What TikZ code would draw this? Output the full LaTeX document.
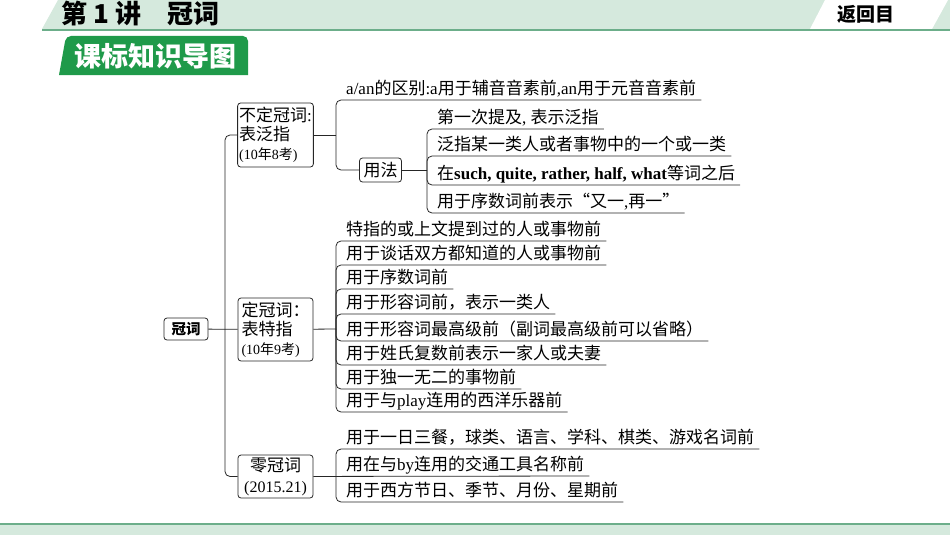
\documentclass[tikz,border=0pt]{standalone}
\usepackage{fontspec}
\setmainfont{Noto Sans CJK SC}
\newfontfamily\lat{Liberation Serif}
\usepackage{xcolor}
\usepackage{tikz}

\definecolor{faixa}{HTML}{D5E9DD}
\definecolor{linhaverde}{HTML}{6CAE8A}
\definecolor{verdetitulo}{HTML}{1F9A4A}

\tikzset{
  caixa/.style={draw=black!85, line width=0.8pt, rounded corners=3pt},
  item/.style={anchor=south west, inner xsep=5pt, inner ysep=1pt, text depth=4pt,
    font=\fontsize{17}{19}\selectfont},
  liga/.style={draw=black!85, line width=0.8pt, rounded corners=5pt},
}

\begin{document}
\begin{tikzpicture}[x=1pt, y=-1pt]
    \useasboundingbox (0,0) rectangle (950,535);

    % Faixa do topo
    \fill[faixa] (58,0) -- (950,0) -- (950,29) -- (42,29) -- cycle;
    \fill[white] (825,0) -- (948,0) -- (932,29) -- (810,29) -- cycle;
    \draw[linhaverde, line width=2pt] (42,30) -- (950,30);
    \node[font=\fontsize{26}{28}\selectfont\bfseries, anchor=west] (titulo) at (58,13) {第 1 讲\hspace{1em}冠词};
    \node[font=\fontsize{19}{21}\selectfont\bfseries] (voltar) at (866,14) {返回目};

    % Faixa de baixo
    \fill[faixa] (0,525) rectangle (950,535);
    \draw[linhaverde, line width=2pt] (0,524) -- (950,524);

    % Etiqueta verde
    \fill[verdetitulo] (59,75) [rounded corners=5pt] -- (66,36) -- (248,36) [sharp corners] -- (248,75) -- cycle;
    \node[white, font=\fontsize{27}{29}\selectfont\bfseries] (etiqueta) at (155,56) {课标知识导图};

    % Raiz e ramos principais
    \node[caixa, font=\fontsize{14.5}{16}\selectfont\bfseries, minimum width=44pt, minimum height=22pt, inner sep=1pt] (raiz) at (186,329) {冠词};
    \node[caixa, font=\fontsize{17}{19}\selectfont, align=left, minimum width=75pt, minimum height=64pt, inner sep=1.5pt] (indef) at (275.5,135)
        {不定冠词{\lat :}\\表泛指\\{\fontsize{14}{15}\selectfont{\lat (10}年{\lat 8}考{\lat )}}};
    \node[caixa, font=\fontsize{17}{19}\selectfont, align=left, minimum width=75pt, minimum height=63pt, inner sep=1.5pt] (def) at (275.5,329.5)
        {定冠词：\\表特指\\{\fontsize{14}{15}\selectfont{\lat (10}年{\lat 9}考{\lat )}}};
    \node[caixa, font=\fontsize{17}{21}\selectfont, align=center, minimum width=75pt, minimum height=43pt, inner sep=2pt] (zero) at (275.5,476.5)
        {零冠词\\{\lat\fontsize{16}{17}\selectfont (2015.21)}};

    \coordinate (tronco) at (225,329);
    \draw[liga] (raiz) -- (def);
    \draw[liga] (tronco) |- (indef.west);
    \draw[liga] (tronco) |- (zero.west);

    % Artigo indefinido
    \coordinate (ramoA) at (336,135);
    \node[caixa, font=\fontsize{17}{19}\selectfont, inner xsep=4pt, inner ysep=1pt, minimum height=24pt] (uso) at (380.5,170) {用法};
    \node[item] (a1) at (341,100) {{\lat a/an}的区别{\lat :a}用于辅音音素前{\lat ,an}用于元音音素前};
    \draw[liga] (indef) -- (ramoA);
    \draw[liga] (ramoA) |- (a1.south east);
    \draw[liga] (ramoA) |- (uso.west);

    \coordinate (ramoB) at (427,170);
    \node[item] (b1) at (432,129) {第一次提及{\lat , }表示泛指};
    \node[item] (b2) at (432,156) {泛指某一类人或者事物中的一个或一类};
    \node[item] (b3) at (432,185) {在{\lat\bfseries such, quite, rather, half, what}等词之后};
    \node[item] (b4) at (432,213) {用于序数词前表示“又一{\lat ,}再一”};
    \draw[liga] (uso) -- (ramoB);
    \draw[liga] (ramoB) |- (b1.south east);
    \draw[liga] (ramoB) |- (b2.south east);
    \draw[liga] (ramoB) |- (b3.south east);
    \draw[liga] (ramoB) |- (b4.south east);

    % Artigo definido
    \coordinate (ramoC) at (336,329);
    \node[item] (c1) at (341,241) {特指的或上文提到过的人或事物前};
    \node[item] (c2) at (341,265) {用于谈话双方都知道的人或事物前};
    \node[item] (c3) at (341,289) {用于序数词前};
    \node[item] (c4) at (341,314) {用于形容词前，表示一类人};
    \node[item] (c5) at (341,341) {用于形容词最高级前（副词最高级前可以省略）};
    \node[item] (c6) at (341,365) {用于姓氏复数前表示一家人或夫妻};
    \node[item] (c7) at (341,389) {用于独一无二的事物前};
    \node[item] (c8) at (341,412) {用于与{\lat play}连用的西洋乐器前};
    \draw[liga] (def) -- (ramoC);
    \draw[liga] (ramoC) |- (c1.south east);
    \draw[liga] (ramoC) |- (c2.south east);
    \draw[liga] (ramoC) |- (c3.south east);
    \draw[liga] (ramoC) |- (c4.south east);
    \draw[liga] (ramoC) |- (c5.south east);
    \draw[liga] (ramoC) |- (c6.south east);
    \draw[liga] (ramoC) |- (c7.south east);
    \draw[liga] (ramoC) |- (c8.south east);

    % Artigo zero
    \coordinate (ramoD) at (336,476);
    \node[item] (d1) at (341,449) {用于一日三餐，球类、语言、学科、棋类、游戏名词前};
    \node[item] (d2) at (341,476) {用在与{\lat by}连用的交通工具名称前};
    \node[item] (d3) at (341,502) {用于西方节日、季节、月份、星期前};
    \draw[liga] (zero) -- (d2.south east);
    \draw[liga] (ramoD) |- (d1.south east);
    \draw[liga] (ramoD) |- (d3.south east);

\end{tikzpicture}
\end{document}
